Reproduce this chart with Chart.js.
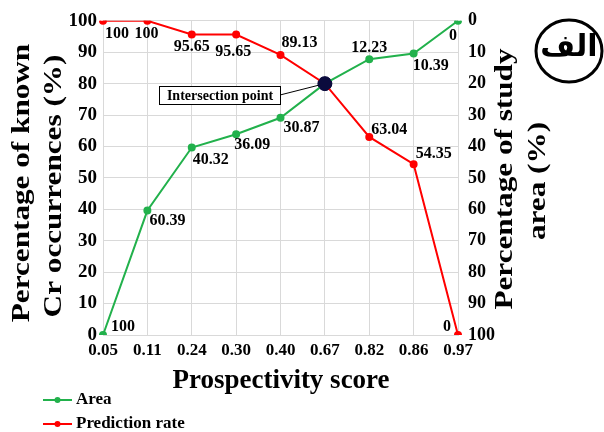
<!DOCTYPE html>
<html>
<head>
<meta charset="utf-8">
<script src="https://cdn.jsdelivr.net/npm/chart.js@4.4.1/dist/chart.umd.min.js"></script>
<style>
  html, body { margin: 0; padding: 0; background: #fff; }
  #wrap { width: 604px; height: 432px; }
</style>
</head>
<body>
<div id="wrap"><canvas id="chart" width="604" height="432"></canvas></div>
<script>
// data
const scores = ['0.05', '0.11', '0.24', '0.30', '0.40', '0.67', '0.82', '0.86', '0.97'];
const areaPct = [100, 60.39, 40.32, 36.09, 30.87, 20, 12.23, 10.39, 0];        // right axis (reversed)
const predictionRate = [100, 100, 95.65, 95.65, 89.13, 80, 63.04, 54.35, 0];  // left axis
const intersectScore = '0.67';
const intersectValue = 80;
const leftTicks = [0, 10, 20, 30, 40, 50, 60, 70, 80, 90, 100];

const GREEN = '#22b14c';
const RED = '#ff0000';
const NAVY = '#0b0b3d';
const GRID = '#d9d9d9';
const SERIF = "'Liberation Serif', 'Times New Roman', serif";

// label offsets (px) from each point, null = no label
const areaLabelPos = [[20, -8], [20, 10], [19, 12], [16, 11], [21, 10], null, [0, -11], [17, 12], [-5, 15]];
const predLabelPos = [[14, 13], [-1, 13], [0, 12], [-3, 17], [19, -12], null, [20, -7], [20, -10], [-11, -8]];

function drawText(ctx, text, x, y, rot, font, stretch) {
    ctx.save();
    ctx.translate(x, y);
    ctx.rotate(rot);
    ctx.scale(stretch || 1, 1);
    ctx.font = font;
    ctx.fillStyle = '#000';
    ctx.textAlign = 'center';
    ctx.textBaseline = 'middle';
    ctx.fillText(text, 0, 0);
    ctx.restore();
}

// point value labels
const valueLabels = {
    id: 'valueLabels',
    afterDatasetsDraw(chart) {
        const ctx = chart.ctx;
        const sets = [[0, areaPct, areaLabelPos], [1, predictionRate, predLabelPos]];
        ctx.save();
        ctx.font = 'bold 16px ' + SERIF;
        ctx.fillStyle = '#000';
        ctx.textAlign = 'center';
        ctx.textBaseline = 'middle';
        sets.forEach(([idx, vals, pos]) => {
            const meta = chart.getDatasetMeta(idx);
            meta.data.forEach((pt, i) => {
                if (!pos[i]) return;
                ctx.fillText(String(vals[i]), pt.x + pos[i][0], pt.y + pos[i][1]);
            });
        });
        ctx.restore();
    }
};

// titles, intersection callout, legend and badge
const decorations = {
    id: 'decorations',
    afterDraw(chart) {
        const ctx = chart.ctx;
        const titleFont = 'bold 26px ' + SERIF;
        drawText(ctx, 'Percentage of known', 22, 183, -Math.PI / 2, titleFont, 1.2);
        drawText(ctx, 'Cr occurrences (%)', 54, 186, -Math.PI / 2, titleFont, 1.2);
        drawText(ctx, 'Percentage of study', 505, 179, -Math.PI / 2, titleFont, 1.2);
        drawText(ctx, 'area (%)', 538, 181, -Math.PI / 2, titleFont, 1.2);
        drawText(ctx, 'Prospectivity score', 281, 381, 0, 'bold 27px ' + SERIF, 1);

        // intersection callout
        const dot = chart.getDatasetMeta(2).data[0];
        ctx.save();
        ctx.strokeStyle = '#000';
        ctx.lineWidth = 1;
        ctx.beginPath();
        ctx.moveTo(280, 95);
        ctx.lineTo(dot.x, dot.y);
        ctx.stroke();
        ctx.fillStyle = '#fff';
        ctx.fillRect(159.5, 86.5, 121, 18);
        ctx.strokeRect(159.5, 86.5, 121, 18);
        ctx.restore();
        drawText(ctx, 'Intersection point', 220, 96, 0, 'bold 14px ' + SERIF, 1);
        // redraw dot over the leader line
        ctx.save();
        ctx.fillStyle = NAVY;
        ctx.beginPath();
        ctx.arc(dot.x, dot.y, 7, 0, Math.PI * 2);
        ctx.fill();
        ctx.restore();

        // legend (stacked)
        const items = [[chart.data.datasets[0], 400], [chart.data.datasets[1], 424]];
        items.forEach(([ds, y]) => {
            ctx.save();
            ctx.strokeStyle = ds.borderColor;
            ctx.fillStyle = ds.borderColor;
            ctx.lineWidth = 2;
            ctx.beginPath();
            ctx.moveTo(43, y);
            ctx.lineTo(72, y);
            ctx.stroke();
            ctx.beginPath();
            ctx.arc(57.5, y, 3, 0, Math.PI * 2);
            ctx.fill();
            ctx.font = 'bold 17px ' + SERIF;
            ctx.fillStyle = '#000';
            ctx.textAlign = 'left';
            ctx.textBaseline = 'middle';
            ctx.fillText(ds.label, 76, y);
            ctx.restore();
        });

        // badge
        ctx.save();
        ctx.strokeStyle = '#000';
        ctx.lineWidth = 3;
        ctx.beginPath();
        ctx.ellipse(569, 51, 33, 31, 0, 0, Math.PI * 2);
        ctx.stroke();
        ctx.restore();
        drawText(ctx, 'الف', 569, 48, 0, "bold 30px 'DejaVu Sans', sans-serif", 1);
    }
};

const ctx = document.getElementById('chart').getContext('2d');
new Chart(ctx, {
    type: 'line',
    data: {
        labels: scores,
        datasets: [
            {
                label: 'Area',
                data: areaPct,
                yAxisID: 'y2',
                borderColor: GREEN,
                backgroundColor: GREEN,
                borderWidth: 2,
                pointRadius: 3,
                pointHoverRadius: 3,
                tension: 0
            },
            {
                label: 'Prediction rate',
                data: predictionRate,
                yAxisID: 'y',
                borderColor: RED,
                backgroundColor: RED,
                borderWidth: 2,
                pointRadius: 3,
                pointHoverRadius: 3,
                tension: 0
            },
            {
                label: 'Intersection point',
                type: 'scatter',
                data: [{ x: intersectScore, y: intersectValue }],
                yAxisID: 'y',
                backgroundColor: NAVY,
                borderColor: NAVY,
                pointRadius: 7
            }
        ]
    },
    options: {
        responsive: false,
        animation: false,
        devicePixelRatio: 1,
        layout: { padding: { top: 18, left: 0, right: 0, bottom: 0 } },
        plugins: {
            legend: { display: false },
            tooltip: { enabled: false }
        },
        scales: {
            x: {
                type: 'category',
                offset: false,
                grid: { color: GRID, drawTicks: false },
                border: { color: GRID },
                ticks: {
                    color: '#000',
                    padding: 5,
                    maxRotation: 0,
                    autoSkip: false,
                    font: { family: SERIF, size: 17, weight: 'bold' }
                },
                afterFit(scale) { scale.height = 97; }
            },
            y: {
                position: 'left',
                min: 0,
                max: 100,
                afterBuildTicks(scale) { scale.ticks = leftTicks.map(v => ({ value: v })); },
                grid: { color: GRID, drawTicks: false },
                border: { color: GRID },
                ticks: {
                    color: '#000',
                    padding: 6,
                    font: { family: SERIF, size: 19, weight: 'bold' }
                },
                afterFit(scale) { scale.width = 103; }
            },
            y2: {
                position: 'right',
                reverse: true,
                min: 0,
                max: 100,
                afterBuildTicks(scale) { scale.ticks = leftTicks.map(v => ({ value: v })); },
                grid: { display: false, drawTicks: false },
                border: { display: false },
                ticks: {
                    color: '#000',
                    padding: 10,
                    font: { family: SERIF, size: 18, weight: 'bold' }
                },
                afterFit(scale) { scale.width = 146; }
            }
        }
    },
    plugins: [valueLabels, decorations]
});
</script>
</body>
</html>
